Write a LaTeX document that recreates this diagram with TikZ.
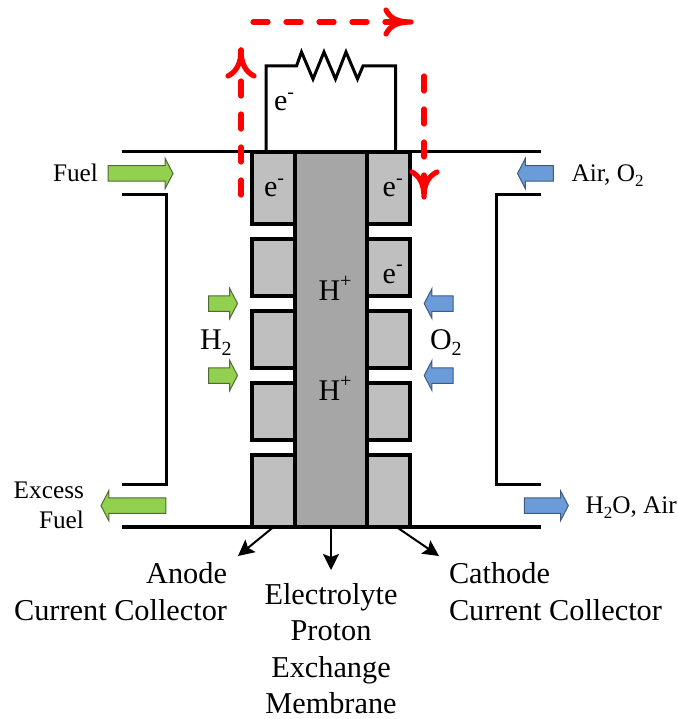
\documentclass[tikz,border=0pt]{standalone}
\usepackage{fontspec}
\setmainfont{Liberation Serif}
\usetikzlibrary{arrows.meta,shapes.arrows}
\definecolor{fuelgreen}{HTML}{92D050}
\definecolor{fueledge}{HTML}{4F6B33}
\definecolor{airblue}{HTML}{6C9BD9}
\definecolor{airedge}{HTML}{3D5A80}
\definecolor{flowred}{HTML}{FF0000}
\newcommand{\lowtxt}[2]{\raisebox{-0.2em}{\fontsize{#1}{#1}\selectfont #2}}
\newcommand{\hightxt}[2]{\raisebox{0.42em}{\fontsize{#1}{#1}\selectfont #2}}
\tikzset{
  wire/.style={draw=black,line width=3pt},
  blockbox/.style={draw=black,line width=3.2pt,fill=#1,anchor=north west,minimum width=43pt,inner sep=0pt,outer sep=0pt},
  blockbox/.default={black!25},
  membranebox/.style={draw=black,line width=3.2pt,fill=black!35,anchor=north west,minimum width=72pt,minimum height=375pt,inner sep=0pt,outer sep=0pt},
  blockarrow/.style={single arrow,inner xsep=0pt,inner ysep=7.25pt,outer sep=0pt,line width=1pt,minimum width=29pt,minimum height=#1,
    single arrow head extend=7.25pt,single arrow tip angle=125,anchor=center},
  greenarrow/.style={blockarrow=#1,draw=fueledge,fill=fuelgreen},
  bluearrow/.style={blockarrow=#1,draw=airedge,fill=airblue},
  flowdash/.style={draw=flowred,line width=5.2pt,line cap=round,dash pattern=on 15pt off 18pt},
  flowhead/.style={draw=flowred,line width=5.2pt,line cap=round,line join=round},
  pointer/.style={draw=black,line width=2pt,-{Stealth[length=16pt,width=16pt,inset=3pt]}},
  bigtext/.style={font=\fontsize{30.3}{37}\selectfont,inner sep=0pt,outer sep=0pt},
  midtext/.style={font=\fontsize{30}{37}\selectfont,inner sep=0pt,outer sep=0pt},
  smalltext/.style={font=\fontsize{25.3}{30}\selectfont,inner sep=0pt,outer sep=0pt},
}
\begin{document}
\begin{tikzpicture}[x=1pt,y=-1pt]
\useasboundingbox (0,0) rectangle (677,719);
% stack
\node[membranebox] (mem) at (295,152) {};
\node[blockbox,minimum height=72pt] (a1) at (252,152) {};
\node[blockbox,minimum height=57pt] (a2) at (252,239) {};
\node[blockbox,minimum height=57pt] (a3) at (252,311) {};
\node[blockbox,minimum height=57pt] (a4) at (252,383) {};
\node[blockbox,minimum height=72pt] (a5) at (252,455) {};
\node[blockbox,minimum height=72pt] (c1) at (367,152) {};
\node[blockbox,minimum height=57pt] (c2) at (367,239) {};
\node[blockbox,minimum height=57pt] (c3) at (367,311) {};
\node[blockbox,minimum height=57pt] (c4) at (367,383) {};
\node[blockbox,minimum height=72pt] (c5) at (367,455) {};
% housing
\coordinate (tl) at (122,152); \coordinate (tr) at (541,152);
\coordinate (bl) at (122,527); \coordinate (br) at (541,527);
\draw[wire] (tl) -- (tr);
\draw[wire,line width=4pt] (bl) -- (br);
\coordinate (lu) at (122,195); \coordinate (ll) at (122,484);
\coordinate (ru) at (541,195); \coordinate (rl) at (541,484);
\draw[wire,line join=miter] (lu) -| (166,484) -- (ll);
\draw[wire,line join=miter] (ru) -| (496,484) -- (rl);
% resistor circuit
\draw[wire,line join=miter] ([xshift=-7.5pt]a1.north) |- (296.5,66) -- (301.5,52) -- (313,79) -- (324,52) -- (335.5,79) -- (346,52) -- (357.5,79) -- (363,66) -| ([xshift=7pt]c1.north);
% red flow
\coordinate (fa) at (241,195); \coordinate (fb) at (241,50);
\coordinate (fc) at (253,22); \coordinate (fd) at (411,22);
\coordinate (fe) at (424,76); \coordinate (ff) at (424,197);
\draw[flowdash] (fa) -- (fb);
\draw[flowhead] ([shift={(-13,26)}]fb) .. controls ([shift={(-5,22)}]fb) and ([shift={(0,14)}]fb) .. (fb) .. controls ([shift={(0,14)}]fb) and ([shift={(5,22)}]fb) .. ([shift={(13,26)}]fb);
\draw[flowdash] (fc) -- (fd);
\draw[flowhead] ([shift={(-25,-12)}]fd) .. controls ([shift={(-21,-4)}]fd) and ([shift={(-14,0)}]fd) .. (fd) .. controls ([shift={(-14,0)}]fd) and ([shift={(-21,4)}]fd) .. ([shift={(-25,12)}]fd);
\draw[flowdash] (fe) -- (ff);
\draw[flowhead] ([shift={(-12,-25)}]ff) .. controls ([shift={(-5,-21)}]ff) and ([shift={(0,-14)}]ff) .. (ff) .. controls ([shift={(0,-14)}]ff) and ([shift={(5,-21)}]ff) .. ([shift={(13,-25)}]ff);
% block arrows
\node[greenarrow=65pt] (fuelin) at (138.5,173.5) {};
\node[greenarrow=65pt,shape border rotate=180] (fuelout) at (135.5,505.7) {};
\node[greenarrow=29pt] (h1) at (221,303.5) {};
\node[greenarrow=29pt] (h2) at (221,375.5) {};
\node[bluearrow=36pt,shape border rotate=180] (airin) at (537.5,173.5) {};
\node[bluearrow=29pt,shape border rotate=180] (o1) at (440.7,303.5) {};
\node[bluearrow=29pt,shape border rotate=180] (o2) at (440.7,375.5) {};
\node[bluearrow=44pt] (airout) at (544.3,505.7) {};
% labels
\node[smalltext,anchor=base east] (lfuel) at (98,181.7) {Fuel};
\node[smalltext,anchor=base west] (lair) at (571.5,181.7) {Air, O\lowtxt{17}{2}};
\node[smalltext,anchor=base east] (lex) at (84,498) {Excess};
\node[smalltext,anchor=base east] (lexf) at (84,528) {Fuel};
\node[smalltext,anchor=base west] (lwater) at (585.5,513) {H\lowtxt{17}{2}O, Air};
\node[midtext,anchor=base west] (lh) at (200,349) {H\lowtxt{20}{2}};
\node[midtext,anchor=base west] (lo) at (430,349) {O\lowtxt{20}{2}};
\node[midtext,anchor=base west] (ew) at (274,110.7) {e\hightxt{20}{-}};
\node[midtext,anchor=base west] (ea) at (264,196.7) {e\hightxt{20}{-}};
\node[midtext,anchor=base west] (ec) at (382.7,196.7) {e\hightxt{20}{-}};
\node[midtext,anchor=base west] (ed) at (382.7,283.3) {e\hightxt{20}{-}};
\node[midtext,anchor=base] (hp1) at (335,300) {H\hightxt{20}{+}};
\node[midtext,anchor=base] (hp2) at (335,400) {H\hightxt{20}{+}};
\node[bigtext,anchor=base east] (an1) at (227,583.7) {Anode};
\node[bigtext,anchor=base east] (an2) at (227,620.3) {Current Collector};
\node[bigtext,anchor=base west] (ca1) at (449,583.7) {Cathode};
\node[bigtext,anchor=base west] (ca2) at (449,620.3) {Current Collector};
\node[bigtext,anchor=base] (el1) at (331,604) {Electrolyte};
\node[bigtext,anchor=base] (el2) at (331,640.5) {Proton};
\node[bigtext,anchor=base] (el3) at (331,677) {Exchange};
\node[bigtext,anchor=base] (el4) at (331,713.5) {Membrane};
% pointers
\coordinate (pa) at (238,556); \coordinate (pm) at (331,570); \coordinate (pc) at (439,556);
\draw[pointer] (a5.south) -- (pa);
\draw[pointer] (mem.south) -- (pm);
\draw[pointer] ([xshift=8pt]c5.south) -- (pc);
\end{tikzpicture}
\end{document}
